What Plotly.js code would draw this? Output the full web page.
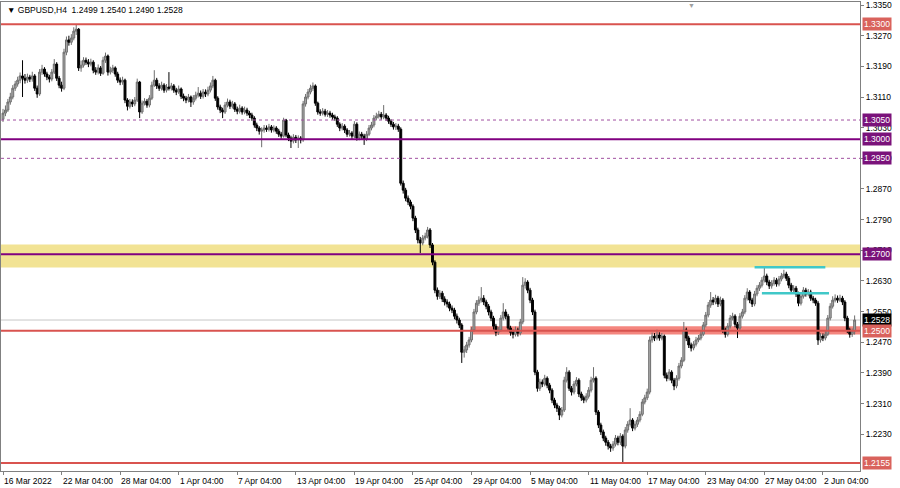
<!DOCTYPE html>
<html><head><meta charset="utf-8">
<script src="https://cdn.plot.ly/plotly-3.0.1.min.js"></script>
<style>html,body{margin:0;padding:0;background:#fff;}#chart{width:900px;height:488px;}</style>
</head><body><div id="chart"></div>
<script>
const open = [
1.3052,1.3068,1.3076,1.3097,1.3110,1.3133,1.3144,1.3154,1.3165,1.3159,
1.3154,1.3162,1.3157,1.3165,1.3133,1.3118,1.3175,1.3183,1.3170,1.3162,
1.3157,1.3175,1.3196,1.3159,1.3141,1.3133,1.3227,1.3259,1.3253,1.3264,
1.3282,1.3287,1.3186,1.3193,1.3206,1.3201,1.3196,1.3201,1.3180,1.3175,
1.3186,1.3172,1.3206,1.3217,1.3175,1.3180,1.3186,1.3170,1.3154,1.3149,
1.3154,1.3102,1.3086,1.3097,1.3092,1.3102,1.3149,1.3071,1.3094,1.3099,
1.3089,1.3107,1.3141,1.3154,1.3139,1.3133,1.3141,1.3128,1.3136,1.3133,
1.3139,1.3128,1.3123,1.3131,1.3112,1.3107,1.3102,1.3110,1.3097,1.3107,
1.3115,1.3120,1.3112,1.3123,1.3118,1.3128,1.3139,1.3154,1.3107,1.3084,
1.3076,1.3071,1.3089,1.3097,1.3086,1.3092,1.3078,1.3073,1.3081,1.3071,
1.3076,1.3068,1.3063,1.3055,1.3037,1.3029,1.3021,1.3024,1.3029,1.3026,
1.3032,1.3024,1.3029,1.3021,1.3013,1.3008,1.3050,1.3011,1.3003,1.2995,
1.3005,1.2998,1.3003,1.2998,1.3092,1.3110,1.3123,1.3133,1.3139,1.3094,
1.3071,1.3068,1.3073,1.3065,1.3068,1.3063,1.3058,1.3055,1.3039,1.3029,
1.3034,1.3024,1.3013,1.3016,1.3008,1.3039,1.3003,1.3013,1.3008,1.3000,
1.3013,1.3029,1.3037,1.3055,1.3060,1.3065,1.3058,1.3063,1.3055,1.3047,
1.3039,1.3032,1.3034,1.3026,1.2885,1.2867,1.2846,1.2836,1.2825,1.2794,
1.2763,1.2737,1.2729,1.2742,1.2747,1.2763,1.2724,1.2679,1.2606,1.2590,
1.2598,1.2583,1.2575,1.2570,1.2559,1.2554,1.2538,1.2528,1.2515,1.2444,
1.2450,1.2463,1.2476,1.2502,1.2549,1.2572,1.2580,1.2585,1.2575,1.2564,
1.2549,1.2533,1.2512,1.2496,1.2502,1.2533,1.2549,1.2538,1.2507,1.2496,
1.2491,1.2502,1.2494,1.2523,1.2619,1.2627,1.2606,1.2580,1.2549,1.2392,
1.2350,1.2366,1.2361,1.2376,1.2358,1.2345,1.2319,1.2306,1.2298,1.2280,
1.2293,1.2371,1.2392,1.2350,1.2340,1.2361,1.2371,1.2335,1.2325,1.2319,
1.2329,1.2345,1.2371,1.2376,1.2288,1.2254,1.2236,1.2220,1.2209,1.2199,
1.2194,1.2204,1.2220,1.2209,1.2225,1.2199,1.2241,1.2256,1.2267,1.2246,
1.2256,1.2267,1.2282,1.2314,1.2325,1.2340,1.2476,1.2486,1.2481,1.2489,
1.2481,1.2486,1.2384,1.2376,1.2392,1.2371,1.2356,1.2376,1.2408,1.2423,
1.2502,1.2481,1.2463,1.2455,1.2465,1.2476,1.2481,1.2491,1.2515,1.2541,
1.2567,1.2580,1.2575,1.2585,1.2570,1.2580,1.2502,1.2491,1.2512,1.2533,
1.2538,1.2517,1.2507,1.2538,1.2549,1.2585,1.2601,1.2580,1.2570,1.2596,
1.2611,1.2619,1.2632,1.2643,1.2627,1.2617,1.2624,1.2632,1.2622,1.2635,
1.2643,1.2648,1.2637,1.2619,1.2606,1.2611,1.2596,1.2572,1.2590,1.2606,
1.2596,1.2601,1.2585,1.2580,1.2572,1.2476,1.2486,1.2481,1.2491,1.2533,
1.2564,1.2580,1.2585,1.2580,1.2585,1.2575,1.2533,1.2502,1.2491,1.2499];
const high = [
1.3079,1.3088,1.3105,1.3121,1.3141,1.3152,1.3163,1.3174,1.3206,1.3170,
1.3171,1.3168,1.3176,1.3170,1.3140,1.3183,1.3194,1.3188,1.3176,1.3168,
1.3183,1.3209,1.3201,1.3165,1.3150,1.3236,1.3268,1.3270,1.3274,1.3292,
1.3298,1.3290,1.3205,1.3214,1.3213,1.3209,1.3210,1.3206,1.3188,1.3195,
1.3191,1.3215,1.3226,1.3221,1.3189,1.3194,1.3190,1.3176,1.3161,1.3163,
1.3158,1.3107,1.3105,1.3104,1.3110,1.3158,1.3152,1.3101,1.3107,1.3105,
1.3115,1.3150,1.3180,1.3160,1.3146,1.3150,1.3146,1.3144,1.3175,1.3147,
1.3144,1.3134,1.3140,1.3135,1.3119,1.3113,1.3118,1.3114,1.3115,1.3124,
1.3136,1.3127,1.3131,1.3130,1.3137,1.3148,1.3165,1.3158,1.3112,1.3090,
1.3082,1.3097,1.3106,1.3103,1.3100,1.3097,1.3085,1.3090,1.3086,1.3085,
1.3082,1.3074,1.3069,1.3060,1.3043,1.3034,1.3031,1.3037,1.3036,1.3040,
1.3037,1.3036,1.3034,1.3027,1.3019,1.3056,1.3053,1.3017,1.3009,1.3013,
1.3011,1.3010,1.3008,1.3100,1.3118,1.3131,1.3142,1.3148,1.3143,1.3098,
1.3078,1.3081,1.3079,1.3076,1.3074,1.3069,1.3064,1.3060,1.3044,1.3042,
1.3039,1.3029,1.3024,1.3021,1.3047,1.3044,1.3020,1.3019,1.3014,1.3021,
1.3037,1.3045,1.3063,1.3069,1.3074,1.3071,1.3089,1.3068,1.3061,1.3052,
1.3045,1.3042,1.3040,1.3031,1.2892,1.2873,1.2853,1.2842,1.2830,1.2800,
1.2769,1.2745,1.2750,1.2756,1.2771,1.2768,1.2729,1.2684,1.2613,1.2606,
1.2604,1.2590,1.2582,1.2576,1.2566,1.2560,1.2545,1.2534,1.2520,1.2460,
1.2471,1.2484,1.2510,1.2557,1.2580,1.2590,1.2614,1.2593,1.2581,1.2570,
1.2555,1.2539,1.2518,1.2510,1.2541,1.2572,1.2556,1.2544,1.2513,1.2503,
1.2511,1.2508,1.2531,1.2640,1.2637,1.2632,1.2612,1.2586,1.2555,1.2398,
1.2375,1.2373,1.2385,1.2381,1.2364,1.2350,1.2325,1.2312,1.2304,1.2301,
1.2380,1.2405,1.2397,1.2356,1.2369,1.2379,1.2376,1.2341,1.2331,1.2337,
1.2353,1.2380,1.2405,1.2381,1.2293,1.2260,1.2242,1.2226,1.2215,1.2205,
1.2212,1.2228,1.2226,1.2233,1.2230,1.2249,1.2264,1.2298,1.2272,1.2264,
1.2275,1.2290,1.2322,1.2333,1.2349,1.2485,1.2495,1.2494,1.2503,1.2496,
1.2494,1.2490,1.2391,1.2400,1.2397,1.2377,1.2384,1.2416,1.2431,1.2523,
1.2508,1.2487,1.2469,1.2473,1.2484,1.2489,1.2499,1.2523,1.2549,1.2575,
1.2601,1.2588,1.2594,1.2591,1.2589,1.2585,1.2508,1.2520,1.2541,1.2547,
1.2543,1.2523,1.2546,1.2557,1.2593,1.2611,1.2606,1.2586,1.2604,1.2619,
1.2627,1.2640,1.2666,1.2649,1.2633,1.2632,1.2640,1.2638,1.2643,1.2651,
1.2659,1.2654,1.2643,1.2625,1.2619,1.2617,1.2602,1.2598,1.2614,1.2612,
1.2609,1.2607,1.2591,1.2586,1.2578,1.2494,1.2493,1.2499,1.2541,1.2572,
1.2590,1.2595,1.2592,1.2594,1.2591,1.2580,1.2539,1.2508,1.2506,1.2540];
const low = [
1.3045,1.3060,1.3071,1.3090,1.3104,1.3126,1.3137,1.3146,1.3110,1.3145,
1.3147,1.3149,1.3150,1.3126,1.3108,1.3113,1.3168,1.3163,1.3154,1.3148,
1.3151,1.3170,1.3152,1.3133,1.3124,1.3128,1.3219,1.3244,1.3246,1.3258,
1.3272,1.3178,1.3176,1.3187,1.3194,1.3188,1.3190,1.3172,1.3168,1.3169,
1.3165,1.3168,1.3199,1.3166,1.3169,1.3173,1.3163,1.3147,1.3141,1.3142,
1.3094,1.3075,1.3080,1.3084,1.3086,1.3097,1.3055,1.3066,1.3088,1.3082,
1.3083,1.3102,1.3136,1.3131,1.3126,1.3127,1.3121,1.3122,1.3127,1.3127,
1.3121,1.3115,1.3118,1.3105,1.3099,1.3094,1.3096,1.3084,1.3090,1.3101,
1.3109,1.3105,1.3106,1.3110,1.3112,1.3122,1.3133,1.3100,1.3077,1.3068,
1.3055,1.3066,1.3083,1.3079,1.3080,1.3071,1.3065,1.3067,1.3064,1.3065,
1.3061,1.3055,1.3048,1.3030,1.3021,1.3012,1.2979,1.3017,1.3019,1.3020,
1.3017,1.3018,1.3014,1.3006,1.3001,1.3004,1.3005,1.2995,1.2977,1.2989,
1.2990,1.2977,1.2989,1.2993,1.3085,1.3104,1.3117,1.3126,1.3087,1.3064,
1.3061,1.3062,1.3059,1.3058,1.3056,1.3051,1.3048,1.3032,1.3021,1.3023,
1.3016,1.3006,1.3007,1.3000,1.3003,1.2996,1.2997,1.2999,1.2985,1.2995,
1.3008,1.3023,1.3031,1.3049,1.3054,1.3051,1.3052,1.3048,1.3040,1.3032,
1.3025,1.3024,1.3019,1.2879,1.2858,1.2838,1.2828,1.2817,1.2786,1.2755,
1.2728,1.2703,1.2723,1.2736,1.2741,1.2716,1.2671,1.2598,1.2581,1.2583,
1.2575,1.2566,1.2561,1.2551,1.2546,1.2530,1.2519,1.2507,1.2416,1.2430,
1.2442,1.2456,1.2470,1.2497,1.2543,1.2565,1.2574,1.2567,1.2556,1.2540,
1.2525,1.2503,1.2486,1.2489,1.2497,1.2527,1.2530,1.2499,1.2487,1.2480,
1.2485,1.2485,1.2488,1.2517,1.2610,1.2598,1.2572,1.2541,1.2384,1.2341,
1.2343,1.2353,1.2355,1.2350,1.2337,1.2311,1.2298,1.2288,1.2267,1.2274,
1.2288,1.2365,1.2343,1.2331,1.2334,1.2355,1.2327,1.2317,1.2311,1.2313,
1.2323,1.2339,1.2365,1.2280,1.2246,1.2228,1.2212,1.2200,1.2190,1.2184,
1.2187,1.2198,1.2201,1.2202,1.2157,1.2193,1.2234,1.2250,1.2238,1.2240,
1.2249,1.2261,1.2277,1.2308,1.2319,1.2334,1.2469,1.2473,1.2475,1.2474,
1.2475,1.2376,1.2368,1.2370,1.2363,1.2345,1.2350,1.2370,1.2402,1.2418,
1.2473,1.2455,1.2446,1.2449,1.2459,1.2470,1.2475,1.2486,1.2509,1.2535,
1.2560,1.2567,1.2569,1.2562,1.2564,1.2494,1.2482,1.2485,1.2506,1.2527,
1.2509,1.2481,1.2501,1.2532,1.2543,1.2579,1.2572,1.2562,1.2564,1.2590,
1.2604,1.2613,1.2626,1.2619,1.2609,1.2610,1.2618,1.2615,1.2616,1.2629,
1.2637,1.2630,1.2611,1.2598,1.2600,1.2588,1.2564,1.2566,1.2584,1.2589,
1.2590,1.2578,1.2572,1.2565,1.2463,1.2469,1.2473,1.2475,1.2486,1.2527,
1.2558,1.2574,1.2573,1.2575,1.2567,1.2525,1.2494,1.2482,1.2484,1.2490];
const close = [
1.3068,1.3076,1.3097,1.3110,1.3133,1.3144,1.3154,1.3165,1.3159,1.3154,
1.3162,1.3157,1.3165,1.3133,1.3118,1.3175,1.3183,1.3170,1.3162,1.3157,
1.3175,1.3196,1.3159,1.3141,1.3133,1.3227,1.3259,1.3253,1.3264,1.3282,
1.3287,1.3186,1.3193,1.3206,1.3201,1.3196,1.3201,1.3180,1.3175,1.3186,
1.3172,1.3206,1.3217,1.3175,1.3180,1.3186,1.3170,1.3154,1.3149,1.3154,
1.3102,1.3086,1.3097,1.3092,1.3102,1.3149,1.3071,1.3094,1.3099,1.3089,
1.3107,1.3141,1.3154,1.3139,1.3133,1.3141,1.3128,1.3136,1.3133,1.3139,
1.3128,1.3123,1.3131,1.3112,1.3107,1.3102,1.3110,1.3097,1.3107,1.3115,
1.3120,1.3112,1.3123,1.3118,1.3128,1.3139,1.3154,1.3107,1.3084,1.3076,
1.3071,1.3089,1.3097,1.3086,1.3092,1.3078,1.3073,1.3081,1.3071,1.3076,
1.3068,1.3063,1.3055,1.3037,1.3029,1.3021,1.3024,1.3029,1.3026,1.3032,
1.3024,1.3029,1.3021,1.3013,1.3008,1.3050,1.3011,1.3003,1.2995,1.3005,
1.2998,1.3003,1.2998,1.3092,1.3110,1.3123,1.3133,1.3139,1.3094,1.3071,
1.3068,1.3073,1.3065,1.3068,1.3063,1.3058,1.3055,1.3039,1.3029,1.3034,
1.3024,1.3013,1.3016,1.3008,1.3039,1.3003,1.3013,1.3008,1.3000,1.3013,
1.3029,1.3037,1.3055,1.3060,1.3065,1.3058,1.3063,1.3055,1.3047,1.3039,
1.3032,1.3034,1.3026,1.2885,1.2867,1.2846,1.2836,1.2825,1.2794,1.2763,
1.2737,1.2729,1.2742,1.2747,1.2763,1.2724,1.2679,1.2606,1.2590,1.2598,
1.2583,1.2575,1.2570,1.2559,1.2554,1.2538,1.2528,1.2515,1.2444,1.2450,
1.2463,1.2476,1.2502,1.2549,1.2572,1.2580,1.2585,1.2575,1.2564,1.2549,
1.2533,1.2512,1.2496,1.2502,1.2533,1.2549,1.2538,1.2507,1.2496,1.2491,
1.2502,1.2494,1.2523,1.2619,1.2627,1.2606,1.2580,1.2549,1.2392,1.2350,
1.2366,1.2361,1.2376,1.2358,1.2345,1.2319,1.2306,1.2298,1.2280,1.2293,
1.2371,1.2392,1.2350,1.2340,1.2361,1.2371,1.2335,1.2325,1.2319,1.2329,
1.2345,1.2371,1.2376,1.2288,1.2254,1.2236,1.2220,1.2209,1.2199,1.2194,
1.2204,1.2220,1.2209,1.2225,1.2199,1.2241,1.2256,1.2267,1.2246,1.2256,
1.2267,1.2282,1.2314,1.2325,1.2340,1.2476,1.2486,1.2481,1.2489,1.2481,
1.2486,1.2384,1.2376,1.2392,1.2371,1.2356,1.2376,1.2408,1.2423,1.2502,
1.2481,1.2463,1.2455,1.2465,1.2476,1.2481,1.2491,1.2515,1.2541,1.2567,
1.2580,1.2575,1.2585,1.2570,1.2580,1.2502,1.2491,1.2512,1.2533,1.2538,
1.2517,1.2507,1.2538,1.2549,1.2585,1.2601,1.2580,1.2570,1.2596,1.2611,
1.2619,1.2632,1.2643,1.2627,1.2617,1.2624,1.2632,1.2622,1.2635,1.2643,
1.2648,1.2637,1.2619,1.2606,1.2611,1.2596,1.2572,1.2590,1.2606,1.2596,
1.2601,1.2585,1.2580,1.2572,1.2476,1.2486,1.2481,1.2491,1.2533,1.2564,
1.2580,1.2585,1.2580,1.2585,1.2575,1.2533,1.2502,1.2491,1.2499,1.2528];

// x-axis time labels (one every 24 H4 bars)
const tickBars = [0,24,48,72,96,120,144,168,192,216,240,264,288,312,336];
const tickLabels = ['16 Mar 2022','22 Mar 04:00','28 Mar 04:00','1 Apr 04:00','7 Apr 04:00','13 Apr 04:00','19 Apr 04:00','25 Apr 04:00','29 Apr 04:00','5 May 04:00','11 May 04:00','17 May 04:00','23 May 04:00','27 May 04:00','2 Jun 04:00'];
// price axis ticks
const priceTicks = [1.3350,1.3270,1.3190,1.3110,1.3030,1.2950,1.2870,1.2790,1.2710,1.2630,1.2550,1.2470,1.2390,1.2310,1.2230];
// horizontal levels
const redLevels = [1.3300, 1.2500, 1.2155];
const purpleLevels = [1.3000, 1.2700];
const dottedLevels = [1.3050, 1.2950];
const bidPrice = 1.2528;
const yellowZone = [1.2665, 1.2725];
const redZone = [1.2490, 1.2512];
const redZoneStartBar = 191.5;
const cyanTop = {price: 1.2666, from: 308, to: 337};
const cyanMid = {price: 1.2598, from: 311, to: 338.5};
const infoText = 'GBPUSD,H4  1.2499 1.2540 1.2490 1.2528';

const xIdx = close.map((_, i) => i);
const xRange = [-0.82, 351.2];
const FONT = 'Liberation Sans, Arial, sans-serif';

const trace = {
  type: 'candlestick', x: xIdx, open: open, high: high, low: low, close: close,
  increasing: {line: {color: '#6e6e6e', width: 1}, fillcolor: '#aaaaaa'},
  decreasing: {line: {color: '#000000', width: 1}, fillcolor: '#000000'},
  whiskerwidth: 0, hoverinfo: 'skip', showlegend: false
};

const shapes = [];
const hline = (y, color, width, dash, layer) => shapes.push({type:'line', xref:'paper', x0:0, x1:1, yref:'y', y0:y, y1:y, line:{color:color, width:width, dash:dash||'solid'}, layer:layer||'above'});
shapes.push({type:'rect', xref:'paper', x0:0, x1:1, yref:'y', y0:yellowZone[0], y1:yellowZone[1], fillcolor:'#f2e394', line:{width:0}, layer:'below'});
shapes.push({type:'rect', xref:'x', x0:redZoneStartBar, x1:xRange[1], yref:'y', y0:redZone[0], y1:redZone[1], fillcolor:'#f4867f', line:{width:0}, layer:'below'});
hline(bidPrice, '#c8c8c8', 1, 'solid', 'below');
dottedLevels.forEach(v => hline(v, '#a050a0', 1, 'dot'));
redLevels.forEach(v => hline(v, '#d9534f', 2));
purpleLevels.forEach(v => hline(v, '#800080', 2));
[cyanTop, cyanMid].forEach(c => shapes.push({type:'line', xref:'x', x0:c.from, x1:c.to, yref:'y', y0:c.price, y1:c.price, line:{color:'#40c8c8', width:2.5}, layer:'above'}));

const annotations = [];
tickBars.forEach((b, i) => annotations.push({xref:'x', x:b, yref:'paper', y:0, yanchor:'top', xanchor:'left', yshift:-3, xshift:-1, text:tickLabels[i], showarrow:false, font:{family:FONT, size:8.5, color:'#000'}}));
const boxLabel = (v, bg) => annotations.push({xref:'paper', x:1, xanchor:'left', xshift:2, yref:'y', y:v, yanchor:'middle', text:v.toFixed(4), showarrow:false, bgcolor:bg, borderpad:1, font:{family:FONT, size:8.5, color:'#ffffff'}});
boxLabel(1.3300, '#d9625c');
boxLabel(1.3050, '#7a127a');
boxLabel(1.3000, '#7a127a');
boxLabel(1.2950, '#7a127a');
boxLabel(1.2700, '#7a127a');
boxLabel(bidPrice, '#000000');
boxLabel(1.2500, '#d9625c');
boxLabel(1.2155, '#d9625c');
annotations.push({xref:'paper', x:0, xanchor:'left', xshift:4, yref:'paper', y:1, yanchor:'top', yshift:-1, text:'\u25BC ' + infoText, showarrow:false, font:{family:FONT, size:8.5, color:'#000'}});
annotations.push({xref:'paper', x:0.804, xanchor:'center', yref:'paper', y:1, yanchor:'top', yshift:2, text:'\u25BC', showarrow:false, font:{family:FONT, size:7, color:'#a0a0a0'}});

const layout = {
  width: 900, height: 488,
  margin: {l:1, r:40, t:2, b:17, pad:0},
  paper_bgcolor: '#ffffff', plot_bgcolor: '#ffffff',
  showlegend: false, boxgap: 0.22, boxgroupgap: 0,
  xaxis: {type:'linear', range:xRange, rangeslider:{visible:false}, showgrid:false, zeroline:false,
    showline:true, mirror:true, linecolor:'#808080', linewidth:1,
    tickmode:'array', tickvals:tickBars, ticktext:tickBars.map(()=>''), ticks:'outside', ticklen:3, tickcolor:'#808080', showticklabels:false, fixedrange:true},
  yaxis: {side:'right', range:[1.2134, 1.3358], showgrid:false, zeroline:false,
    showline:true, mirror:true, linecolor:'#808080', linewidth:1,
    tickmode:'array', tickvals:priceTicks, ticktext:priceTicks.map(v=>v.toFixed(4)), ticks:'outside', ticklen:3, tickcolor:'#808080',
    tickfont:{family:FONT, size:8.5, color:'#000'}, fixedrange:true},
  shapes: shapes, annotations: annotations, hovermode:false
};
Plotly.newPlot('chart', [trace], layout, {staticPlot:true, displayModeBar:false});
</script></body></html>
